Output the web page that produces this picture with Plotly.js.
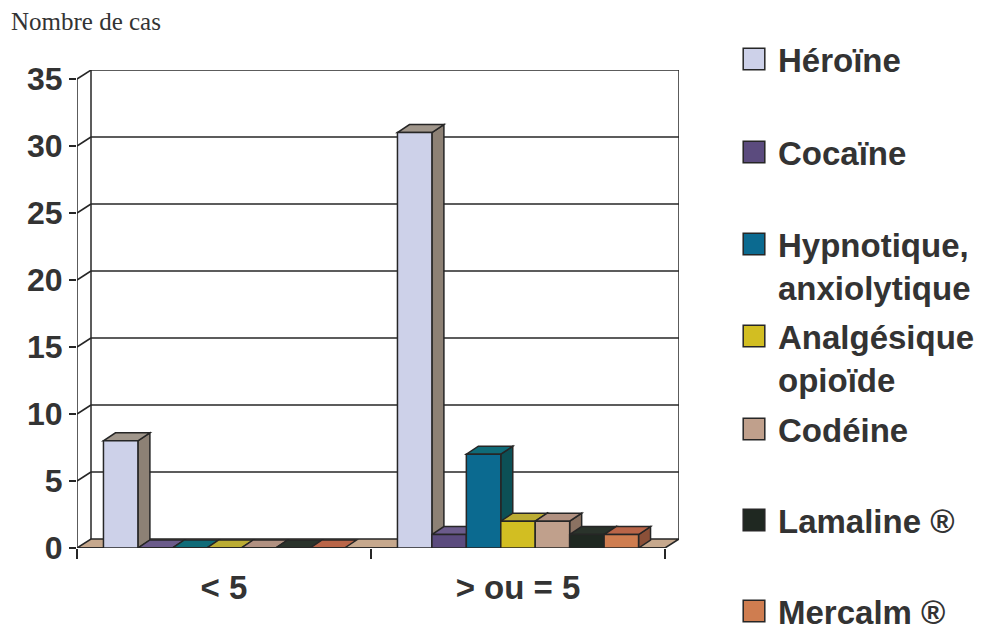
<!DOCTYPE html>
<html><head><meta charset="utf-8">
<script src="https://cdn.plot.ly/plotly-3.0.1.min.js"></script>
<style>
html,body{margin:0;padding:0;background:#fff}
.legendpoints path{transform:translate(16px,0px) scale(1.8);vector-effect:non-scaling-stroke}
</style>
</head><body>
<div id="chart" style="width:990px;height:632px"></div>
<script>
// ---- data ----
const categories = ['< 5', '> ou = 5'];
const seriesNames = ['Héroïne', 'Cocaïne', 'Hypnotique,<br>anxiolytique', 'Analgésique<br>opioïde', 'Codéine', 'Lamaline ®', 'Mercalm ®'];
const heroine = [8, 31];
const cocaine = [0, 1];
const hypnotique = [0, 7];
const analgesique = [0, 2];
const codeine = [0, 2];
const lamaline = [0, 1];
const mercalm = [0, 1];
const yTickVals = [0, 5, 10, 15, 20, 25, 30, 35];
const seriesValues = [heroine, cocaine, hypnotique, analgesique, codeine, lamaline, mercalm];

// ---- styles ----
const frontColors = ['#CDD1E9', '#5B4B7E', '#0B6A90', '#D2BE22', '#C0A08C', '#1F2821', '#CF7D50'];
const topColors   = ['#A0968B', '#6B5B8B', '#0F6B78', '#BBAC33', '#B19181', '#2A332B', '#B96548'];
const sideColors  = ['#8D8175', '#443862', '#0C5056', '#9A8F22', '#8B7262', '#141A16', '#8B5038'];
const lineColor = '#262626';
const textColor = '#333333';

// ---- geometry (pixels) ----
const W = 990, H = 632;
const plotL = 77, plotB = 548, yTopPx = 79, xEndPx = 665;
const catPx = (xEndPx - plotL) / categories.length;
const yScale = (plotB - yTopPx) / 35;
const floorDx = 14, floorDy = 9, barDx = 12, barDy = 8;
const xMin = -0.5, xFront = categories.length - 0.5;
const fdx = floorDx / catPx, fdy = floorDy / yScale;
const bdx = barDx / catPx, bdy = barDy / yScale;
const xMax = xFront + fdx, yMax = 35 + fdy;
const plotR = plotL + (xMax - xMin) * catPx;
const plotT = plotB - yMax * yScale;

const bargap = 0.18;
const barW = (1 - bargap) / seriesNames.length;

const traces = seriesNames.map((name, j) => ({
  type: 'bar', name: name, x: categories, y: seriesValues[j],
  marker: {color: frontColors[j], line: {color: lineColor, width: 1.5}},
  legend: j === 0 ? 'legend' : 'legend' + (j + 1),
  hoverinfo: 'skip'
}));

const shapes = [];
function poly(pts, fill, layer) {
  let d = 'M' + pts.map(p => p[0] + ',' + p[1]).join('L') + 'Z';
  shapes.push({type: 'path', xref: 'x', yref: 'y', path: d, fillcolor: fill,
    line: {color: lineColor, width: 1.5}, layer: layer || 'below'});
}
function seg(x0, y0, x1, y1) {
  shapes.push({type: 'line', xref: 'x', yref: 'y', x0, y0, x1, y1,
    line: {color: lineColor, width: 1.5}, layer: 'below'});
}
// floor
poly([[xMin, 0], [xFront, 0], [xFront + fdx, fdy], [xMin + fdx, fdy]], '#C6A88D');
// back walls
seg(xMin + fdx, fdy, xMin + fdx, 35 + fdy);
seg(xFront + fdx, fdy, xFront + fdx, 35 + fdy);
// gridlines on back wall + side connectors
yTickVals.forEach(v => {
  if (v === 0) return;
  seg(xMin + fdx, v + fdy, xFront + fdx, v + fdy);
  seg(xMin, v, xMin + fdx, v + fdy);
});
// bar depth faces
categories.forEach((c, i) => {
  seriesValues.forEach((vals, j) => {
    const v = vals[i];
    const left = i - (1 - bargap) / 2 + j * barW;
    const right = left + barW;
    if (v > 0) {
      poly([[right, 0], [right, v], [right + bdx, v + bdy], [right + bdx, bdy]], sideColors[j]);
    }
    poly([[left, v], [right, v], [right + bdx, v + bdy], [left + bdx, v + bdy]], topColors[j]);
  });
});
// front axis lines
seg(xMin, 0, xMin, 35);
seg(xMin, 0, xFront, 0);

const legendFont = {family: 'Liberation Sans, Arial, sans-serif', size: 33, color: textColor, weight: 'bold'};
const legendCenters = [60, 153, 245, 337, 430, 521, 612];
const layout = {
  width: W, height: H,
  margin: {l: plotL, r: W - plotR, t: plotT, b: H - plotB, pad: 0},
  paper_bgcolor: '#ffffff', plot_bgcolor: '#ffffff',
  barmode: 'group', bargap: bargap, bargroupgap: 0,
  showlegend: true,
  title: {text: 'Nombre de cas', font: {family: 'Liberation Serif, Times New Roman, serif', size: 25, color: textColor},
    x: 11 / W, xanchor: 'left', xref: 'container', y: 1 - 21 / H, yanchor: 'middle', yref: 'container'},
  xaxis: {type: 'category', range: [xMin, xMax], showgrid: false, zeroline: false, showline: false,
    ticks: 'outside', tickson: 'boundaries', ticklen: 10, tickwidth: 1.5, tickcolor: lineColor,
    ticklabelstandoff: 17,
    tickfont: {family: 'Liberation Sans, Arial, sans-serif', size: 33, color: textColor, weight: 'bold'},
    fixedrange: true},
  yaxis: {range: [0, yMax], tickvals: yTickVals, showgrid: false, zeroline: false, showline: false,
    ticks: 'outside', ticklen: 7, tickwidth: 1.5, tickcolor: lineColor,
    tickfont: {family: 'Liberation Sans, Arial, sans-serif', size: 32, color: textColor, weight: 'bold'},
    fixedrange: true},
  shapes: shapes
};
seriesNames.forEach((n, j) => {
  const key = j === 0 ? 'legend' : 'legend' + (j + 1);
  layout[key] = {x: 738 / W, xref: 'container', xanchor: 'left',
    y: 1 - (legendCenters[j] - 29) / H, yref: 'container', yanchor: 'top',
    font: legendFont, bgcolor: 'rgba(0,0,0,0)', valign: 'top', borderwidth: 0};
});

Plotly.newPlot('chart', traces, layout, {displayModeBar: false, staticPlot: true});
</script>
</body></html>
